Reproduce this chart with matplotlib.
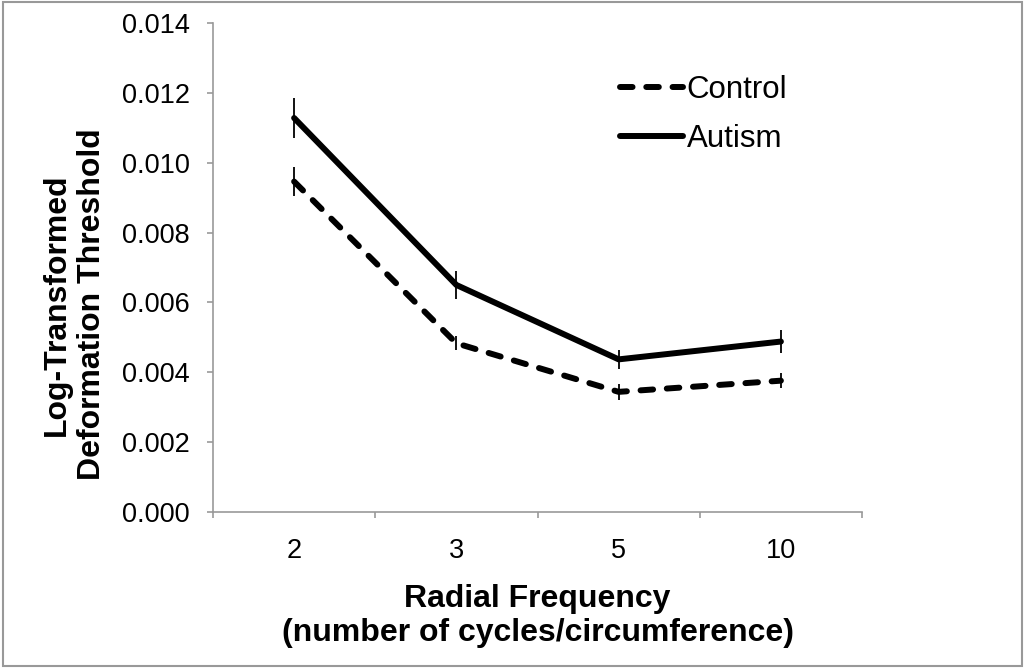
import matplotlib.pyplot as plt
from matplotlib.patches import Rectangle

plt.rcParams['font.family'] = ['Liberation Sans', 'DejaVu Sans']

categories = ['2', '3', '5', '10']
control = [0.00946, 0.00483, 0.00344, 0.00376]
control_err = [0.00041, 0.00020, 0.00022, 0.00021]
autism = [0.01128, 0.00650, 0.00437, 0.00488]
autism_err = [0.00057, 0.00040, 0.00027, 0.00033]

fig = plt.figure(figsize=(10.25, 6.68), dpi=100)
ax = fig.add_axes([0.2078, 0.2335, 0.6332, 0.7321])

x = list(range(1, len(categories) + 1))

ax.errorbar(x, control, yerr=control_err, fmt='none', ecolor='black', elinewidth=1.3, capsize=0)
ax.errorbar(x, autism, yerr=autism_err, fmt='none', ecolor='black', elinewidth=1.3, capsize=0)
ax.plot(x, control, color='black', lw=4.3, linestyle=(0, (2.1, 2.3)),
        dash_capstyle='round', solid_capstyle='round', label='Control')
ax.plot(x, autism, color='black', lw=4.3, solid_capstyle='round', label='Autism')

ax.set_xlim(0.5, 4.5)
ax.set_ylim(0, 0.014)
ax.set_yticks([i * 0.002 for i in range(8)])
ax.set_yticklabels(['%.3f' % (i * 0.002) for i in range(8)])
ax.set_xticks(x)
ax.set_xticklabels(categories)
ax.set_xticks([0.5, 1.5, 2.5, 3.5, 4.5], minor=True)
ax.tick_params(axis='x', which='major', length=0, pad=19, labelsize=19.5)
ax.tick_params(axis='x', which='minor', length=4.5, color='#999999', width=1.2)
ax.tick_params(axis='y', length=4.5, color='#999999', width=1.2, labelsize=19.5, pad=12)

for s in ['top', 'right']:
    ax.spines[s].set_visible(False)
for s in ['left', 'bottom']:
    ax.spines[s].set_color('#999999')
    ax.spines[s].set_linewidth(1.2)

ax.set_ylabel('Log-Transformed\nDeformation Threshold', fontsize=23, fontweight='bold', linespacing=1.25)
ax.yaxis.set_label_coords(-0.163, 0.424)
ax.set_xlabel('Radial Frequency\n(number of cycles/circumference)', fontsize=23, fontweight='bold', labelpad=14)

ax.legend(loc='upper left', bbox_to_anchor=(620 / 1025, 1 - 75 / 668), bbox_transform=fig.transFigure,
          frameon=False, fontsize=22.5, borderpad=0, borderaxespad=0,
          handlelength=2.0, handletextpad=0.13, labelspacing=0.62)

fig.patches.append(Rectangle((0.003, 0.003), 0.994, 0.994, transform=fig.transFigure,
                             fill=False, edgecolor='#999999', lw=1.5))

plt.savefig('out.png', dpi=100)
